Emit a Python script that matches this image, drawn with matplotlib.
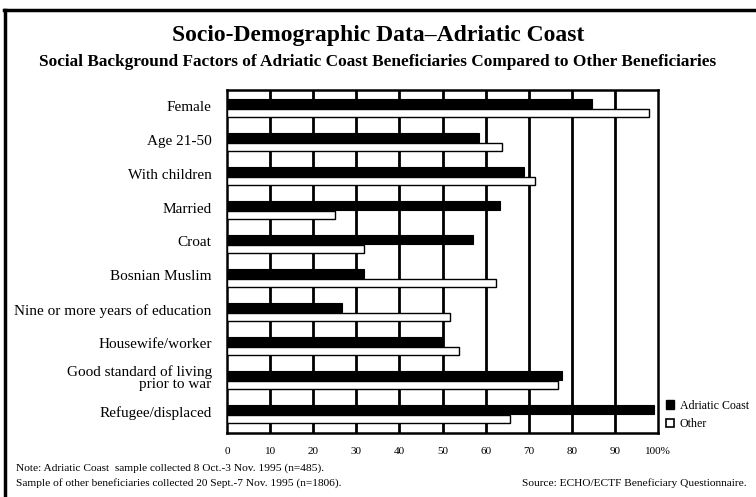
import numpy as np
import matplotlib.pyplot as plt
from matplotlib.patches import Patch

categories = ["Female", "Age 21-50", "With children", "Married", "Croat",
              "Bosnian Muslim", "Nine or more years of education",
              "Housewife/worker", "Good standard of living\nprior to war",
              "Refugee/displaced"]
adriatic = [84.7, 58.4, 68.8, 63.4, 57.0, 31.8, 26.6, 50.0, 77.7, 99.0]
other = [97.8, 63.9, 71.5, 25.1, 31.8, 62.3, 51.7, 53.8, 76.9, 65.7]
ticks = [0, 10, 20, 30, 40, 50, 60, 70, 80, 90, 100]
tick_labels = ["0", "10", "20", "30", "40", "50", "60", "70", "80", "90", "100%"]

plt.rcParams["font.family"] = ["Liberation Serif", "DejaVu Serif"]

fig = plt.figure(figsize=(7.56, 4.97), dpi=100)
ax = fig.add_axes([0.3003, 0.1288, 0.5701, 0.6901])

y = np.arange(len(categories))
ax.barh(y, adriatic, height=0.27, color="black", edgecolor="black", lw=0.8, zorder=3)
ax.barh(y + 0.27, other, height=0.24, color="white", edgecolor="black", lw=1.0, zorder=3)

ax.set_xlim(0, 100)
ax.set_ylim(9.69, -0.41)
ax.set_xticks(ticks)
ax.set_xticklabels(tick_labels, fontsize=8)
ax.tick_params(axis="x", length=0, pad=10)
ax.set_yticks(y + 0.05)
ax.set_yticklabels(categories, fontsize=11, linespacing=0.92)
ax.tick_params(axis="y", length=0, pad=11)
for t in ticks[1:-1]:
    ax.axvline(t, color="black", lw=2, zorder=1)
for s in ax.spines.values():
    s.set_linewidth(1.8)

# figure frame (top and left only)
fig.add_artist(plt.Line2D([0.005, 1.0], [0.979, 0.979], color="black", lw=2.5,
                          transform=fig.transFigure))
fig.add_artist(plt.Line2D([0.006, 0.006], [0.0, 0.979], color="black", lw=2.5,
                          transform=fig.transFigure))

fig.text(0.5, 0.928, "Socio-Demographic Data\u2013Adriatic Coast", ha="center",
         va="center", fontsize=17, fontweight="bold")
fig.text(0.5, 0.875, "Social Background Factors of Adriatic Coast Beneficiaries "
         "Compared to Other Beneficiaries", ha="center", va="center",
         fontsize=12.4, fontweight="bold")

handles = [Patch(facecolor="black", edgecolor="black", label="Adriatic Coast"),
           Patch(facecolor="white", edgecolor="black", lw=1.2, label="Other")]
fig.legend(handles=handles, loc="center left", bbox_to_anchor=(0.874, 0.165),
           frameon=False, fontsize=8.6, handlelength=0.7, handleheight=0.7,
           handletextpad=0.5, labelspacing=0.55, borderaxespad=0)

fig.text(0.021, 0.058, "Note: Adriatic Coast  sample collected 8 Oct.-3 Nov. 1995 (n=485).",
         fontsize=8.2, va="center")
fig.text(0.021, 0.028, "Sample of other beneficiaries collected 20 Sept.-7 Nov. 1995 (n=1806).",
         fontsize=8.2, va="center")
fig.text(0.987, 0.028, "Source: ECHO/ECTF Beneficiary Questionnaire.",
         fontsize=8.2, va="center", ha="right")

fig.savefig("out.png", dpi=100)
